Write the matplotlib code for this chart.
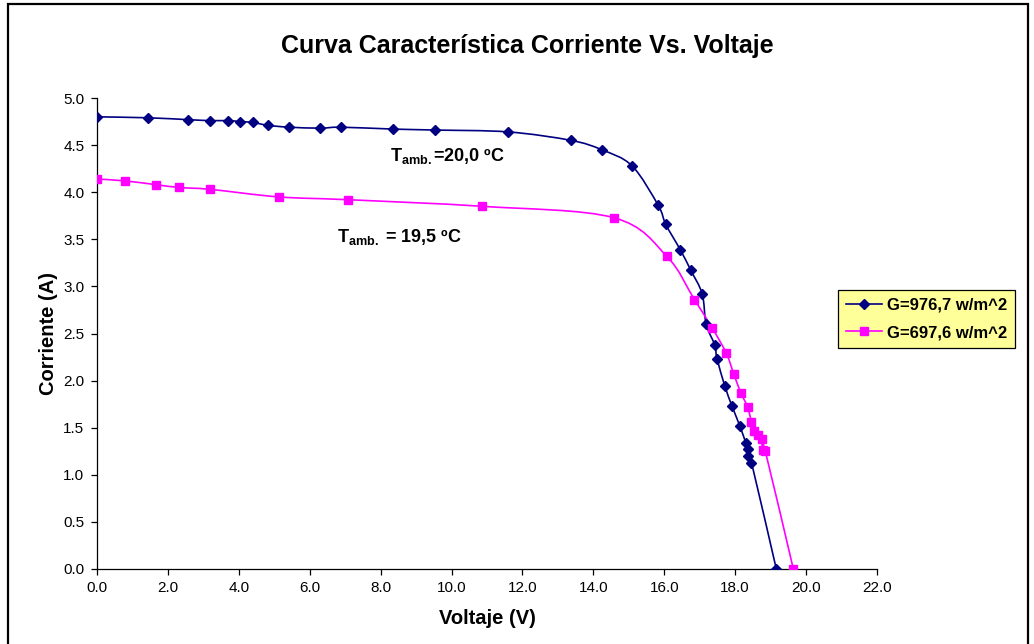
import matplotlib
matplotlib.use("Agg")
import matplotlib.pyplot as plt
import numpy as np
from matplotlib.path import Path
from matplotlib.patches import PathPatch, Rectangle
from matplotlib.lines import Line2D

plt.rcParams['font.family'] = ['Liberation Sans', 'DejaVu Sans']
plt.rcParams['mathtext.fontset'] = 'custom'
plt.rcParams['mathtext.rm'] = 'Liberation Sans:bold'
plt.rcParams['mathtext.it'] = 'Liberation Sans:bold'
plt.rcParams['mathtext.bf'] = 'Liberation Sans:bold'

# Series 1: G=976,7 w/m^2
v1 = [0.0, 1.44, 2.57, 3.19, 3.70, 4.03, 4.40, 4.82, 5.42, 6.29, 6.88, 8.35, 9.53,
      11.6, 13.37, 14.24, 15.09, 15.83, 16.04, 16.45, 16.75, 17.07, 17.18, 17.42,
      17.49, 17.71, 17.91, 18.13, 18.30, 18.37, 18.37, 18.46, 19.16]
i1 = [4.80, 4.79, 4.77, 4.76, 4.76, 4.75, 4.74, 4.71, 4.69, 4.68, 4.69, 4.67, 4.66,
      4.64, 4.55, 4.45, 4.28, 3.86, 3.66, 3.39, 3.17, 2.92, 2.60, 2.38,
      2.23, 1.94, 1.73, 1.52, 1.34, 1.27, 1.20, 1.13, 0.0]

# Series 2: G=697,6 w/m^2
v2 = [0.0, 0.79, 1.66, 2.32, 3.20, 5.13, 7.09, 10.87, 14.57, 16.07, 16.85, 17.35,
      17.75, 17.96, 18.16, 18.35, 18.46, 18.54, 18.65, 18.75, 18.78, 18.85, 19.64]
i2 = [4.14, 4.12, 4.08, 4.05, 4.03, 3.95, 3.92, 3.85, 3.73, 3.32, 2.86, 2.56,
      2.29, 2.07, 1.87, 1.72, 1.56, 1.46, 1.42, 1.38, 1.26, 1.25, 0.0]

labels = ["G=976,7 w/m^2", "G=697,6 w/m^2"]
colors = ["#000080", "#FF00FF"]

xticks = np.arange(0, 22.1, 2.0)
yticks = np.arange(0, 5.01, 0.5)


def smooth_path(x, y):
    x = np.asarray(x, float)
    y = np.asarray(y, float)
    n = len(x)
    verts = [(x[0], y[0])]
    codes = [Path.MOVETO]
    for k in range(n - 1):
        p0 = np.array([x[max(k - 1, 0)], y[max(k - 1, 0)]])
        p1 = np.array([x[k], y[k]])
        p2 = np.array([x[k + 1], y[k + 1]])
        p3 = np.array([x[min(k + 2, n - 1)], y[min(k + 2, n - 1)]])
        c1 = p1 + (p2 - p0) / 6.0
        c2 = p2 - (p3 - p1) / 6.0
        verts += [tuple(c1), tuple(c2), tuple(p2)]
        codes += [Path.CURVE4] * 3
    return Path(verts, codes)


fig = plt.figure(figsize=(10.34, 6.44), dpi=100)
ax = fig.add_axes([97 / 1034, 1 - 569 / 644, 780 / 1034, 471 / 644])

for vx, iy, c, mk, ms in [(v1, i1, colors[0], 'D', 5), (v2, i2, colors[1], 's', 5.8)]:
    ax.add_patch(PathPatch(smooth_path(vx, iy), facecolor='none', edgecolor=c, lw=1.2, zorder=2))
    ax.plot(vx, iy, linestyle='none', marker=mk, markersize=ms, color=c, zorder=3)

ax.set_xlim(0, 22)
ax.set_ylim(0, 5)
ax.set_xticks(xticks)
ax.set_xticklabels([f"{t:.1f}" for t in xticks])
ax.set_yticks(yticks)
ax.set_yticklabels([f"{t:.1f}" for t in yticks])
ax.spines['top'].set_visible(False)
ax.spines['right'].set_visible(False)
for s in ('left', 'bottom'):
    ax.spines[s].set_linewidth(0.9)
    ax.spines[s].set_color('#000000')
ax.tick_params(direction='out', length=4, width=0.9, labelsize=11, pad=5, colors='black')

ax.set_xlabel("Voltaje (V)", fontsize=14.5, fontweight='bold', labelpad=10)
ax.set_ylabel("Corriente (A)", fontsize=14.5, fontweight='bold', labelpad=4)

fig.text(0.51, 1 - 46 / 644, "Curva Característica Corriente Vs. Voltaje",
         ha='center', va='center', fontsize=18, fontweight='bold')

fig.text(390 / 1034, 1 - 156 / 644, r"$\mathrm{T_{amb.}}$=20,0 ºC",
         ha='left', va='center', fontsize=13, fontweight='bold')
fig.text(337 / 1034, 1 - 237 / 644, r"$\mathrm{T_{amb.}}$ = 19,5 ºC",
         ha='left', va='center', fontsize=13, fontweight='bold')

handles = [Line2D([], [], color=colors[0], marker='D', markersize=5, lw=1.2),
           Line2D([], [], color=colors[1], marker='s', markersize=5.8, lw=1.2)]
leg = fig.legend(handles, labels, loc='upper left',
                 bbox_to_anchor=(838 / 1034, 1 - 290 / 644),
                 prop={'weight': 'bold', 'size': 12}, frameon=True, fancybox=False,
                 edgecolor='black', facecolor='#FFFF99', framealpha=1,
                 handlelength=2.2, handletextpad=0.3, borderpad=0.45,
                 labelspacing=0.75, borderaxespad=0)
leg.get_frame().set_linewidth(0.9)

# outer chart border
fig.patches.append(Rectangle((8 / 1034, -0.05), (1028 - 8) / 1034, 1.05 - 4 / 644,
                             transform=fig.transFigure, fill=False,
                             edgecolor='black', lw=1.6, zorder=10))

fig.savefig("out.png", dpi=100)
